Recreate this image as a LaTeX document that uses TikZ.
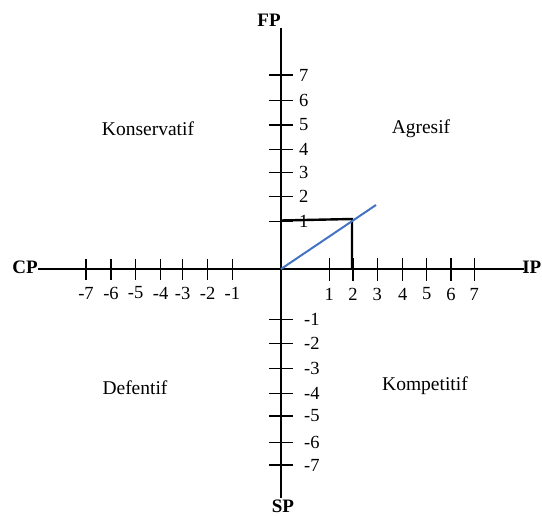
\documentclass[tikz,border=0pt]{standalone}
\usepackage{fontspec}
\setmainfont{Liberation Serif}
\definecolor{lineblue}{RGB}{68,114,196}
\begin{document}
\begin{tikzpicture}[x=1pt,y=-1pt,
  quad/.style={font=\fontsize{19.5}{21}\selectfont, inner sep=0pt},
  axlbl/.style={font=\fontsize{19}{21}\selectfont\bfseries, inner sep=0pt},
  num/.style={font=\fontsize{18.5}{20}\selectfont, inner sep=0pt},
  tickline/.style={line width=1.2pt},
  axisline/.style={line width=1.2pt},
  resline/.style={line width=2.4pt},
  bluel/.style={line width=2pt, draw=lineblue}]
\useasboundingbox (0,0) rectangle (542,516);
\coordinate (O) at (281,269);
\node[axlbl] (FP) at (269,20) {FP};
\node[axlbl] (SP) at (283,506) {SP};
\node[axlbl] (CP) at (25,267) {CP};
\node[axlbl,anchor=east] (IP) at (541.5,267) {IP};
\coordinate (ytop) at (281,28);
\coordinate (ybot) at (281,498);
\coordinate (xl) at (38,269);
\coordinate (xr) at (524,269);
\draw[axisline] (ytop) -- (ybot);
\draw[axisline] (xl) -- (xr);
% horizontal ticks
\foreach \x/\l in {329.3/1,353/2,377.3/3,402.7/4,426.7/5,451/6,474.3/7}{
  \draw[tickline] (\x,258) -- (\x,281);
  \node[num] at (\x,294) {\l};
}
\foreach \x/\l in {86/-7,111/-6,135.7/-5,160.7/-4,182.7/-3,207.7/-2,232.3/-1}{
  \draw[tickline] (\x,259) -- (\x,280);
  \node[num] at (\x,293) {\l};
}
% vertical ticks
\foreach \y/\l in {75/7,100.7/6,125/5,149.3/4,172.7/3,196.7/2,221.7/1}{
  \draw[tickline] (269,\y) -- (293,\y);
  \node[num,anchor=west] at (299,\y) {\l};
}
\foreach \y/\l in {319.3/-1,343.3/-2,368.3/-3,393.3/-4,416/-5,442.7/-6,465/-7}{
  \draw[tickline] (269,\y) -- (293,\y);
  \node[num,anchor=west] at (304,\y) {\l};
}
% result lines
\coordinate (p1) at (281,220.5);
\coordinate (corner) at (352,219);
\coordinate (p2) at (352,269);
\draw[resline] (p1) -- (corner) -- (p2);
\coordinate (bend) at (376,205);
\draw[bluel] (O) -- (bend);
% quadrant labels
\node[quad] (kons) at (148,129) {Konservatif};
\node[quad] (agr) at (421,129) {Agresif};
\node[quad] (def) at (135,388) {Defentif};
\node[quad] (komp) at (425,386) {Kompetitif};
\end{tikzpicture}
\end{document}
